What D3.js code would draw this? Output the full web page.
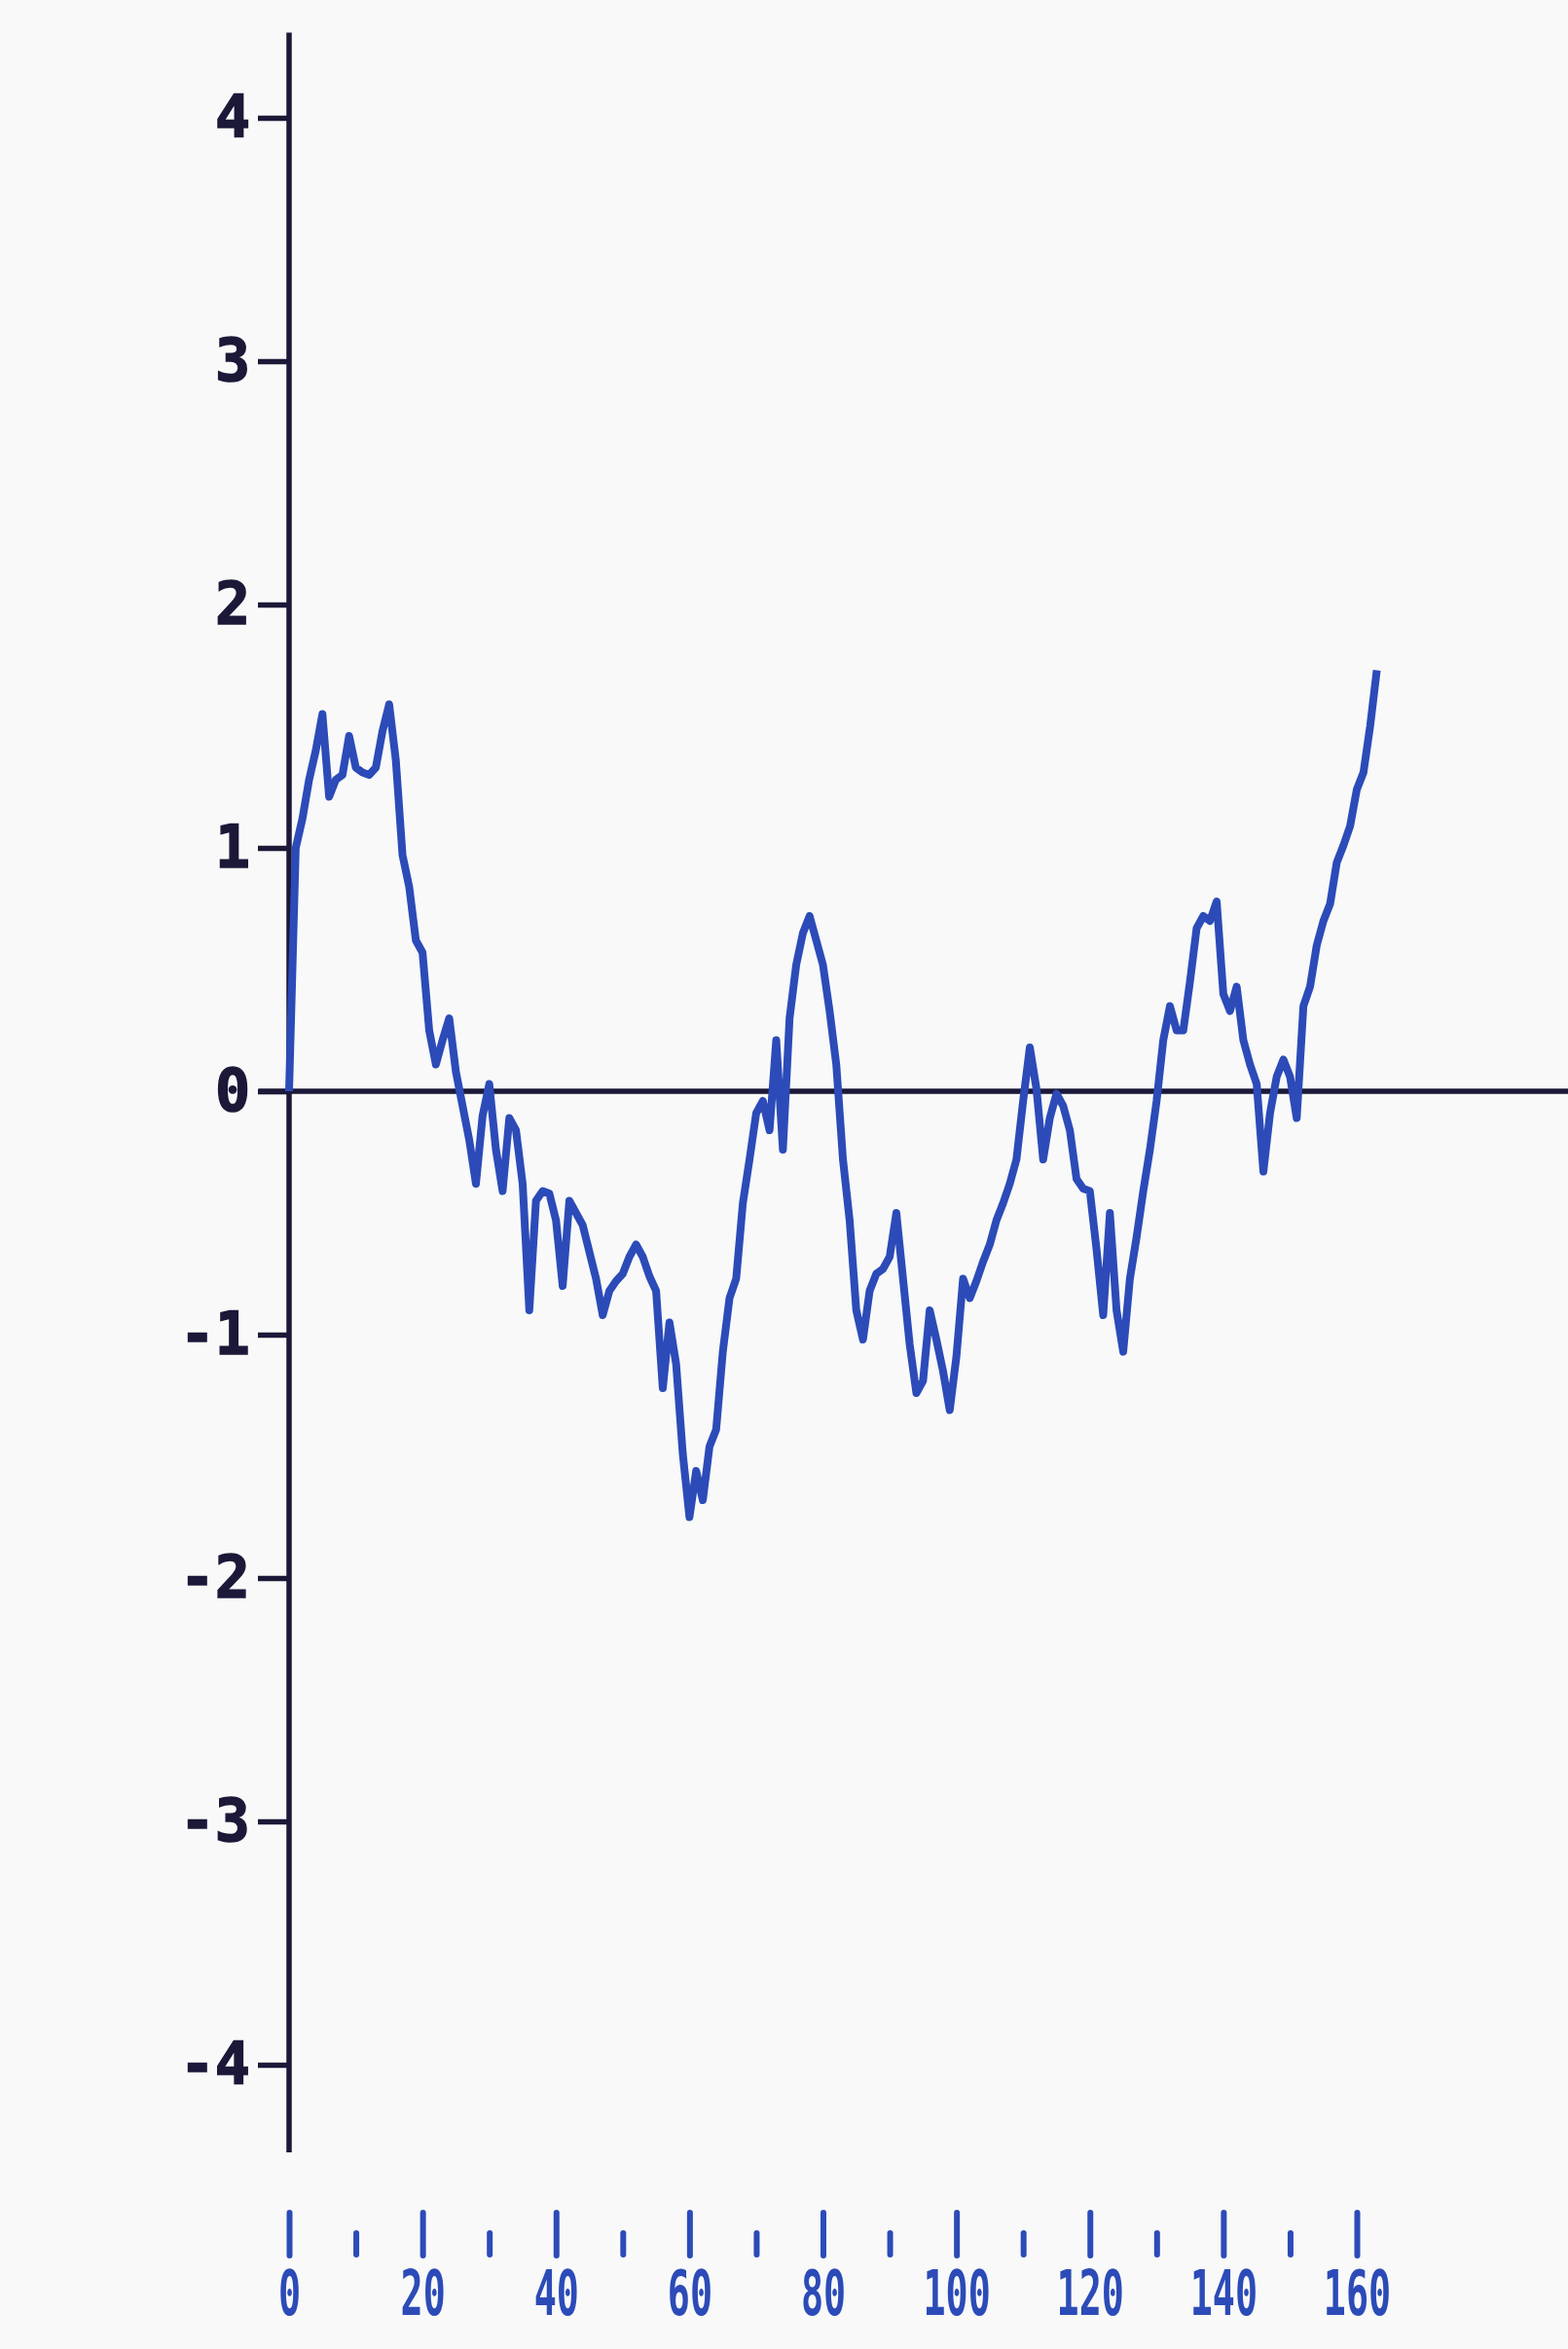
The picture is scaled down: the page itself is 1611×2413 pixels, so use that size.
<!DOCTYPE html>
<html>
<head>
<meta charset="utf-8">
<script src="https://cdn.jsdelivr.net/npm/d3@7"></script>
<style>
  html, body { margin: 0; padding: 0; background: #f8f9f8; }
  svg { display: block; }
</style>
</head>
<body>
<div id="chart"></div>
<script>
// hydropathy-like profile, one value per residue
const profile = [
   0.00, 1.00, 1.12, 1.28, 1.40, 1.55, 1.21, 1.28, 1.30, 1.46,
   1.33, 1.31, 1.30, 1.33, 1.48, 1.59, 1.36, 0.97, 0.84, 0.62,
   0.57, 0.25, 0.11, 0.21, 0.30, 0.08,-0.06,-0.20,-0.38,-0.10,
   0.03,-0.24,-0.41,-0.11,-0.16,-0.38,-0.90,-0.45,-0.41,-0.42,
  -0.53,-0.80,-0.45,-0.50,-0.55,-0.66,-0.77,-0.92,-0.82,-0.78,
  -0.75,-0.68,-0.63,-0.68,-0.76,-0.82,-1.22,-0.95,-1.12,-1.49,
  -1.75,-1.56,-1.68,-1.46,-1.39,-1.07,-0.85,-0.77,-0.46,-0.28,
  -0.09,-0.04,-0.16, 0.21,-0.24, 0.30, 0.52, 0.65, 0.72, 0.62,
   0.52, 0.33, 0.11,-0.28,-0.53,-0.90,-1.02,-0.82,-0.75,-0.73,
  -0.68,-0.50,-0.77,-1.04,-1.24,-1.19,-0.90,-1.02,-1.15,-1.31,
  -1.09,-0.77,-0.85,-0.78,-0.70,-0.63,-0.53,-0.46,-0.38,-0.28,
  -0.04, 0.18, 0.01,-0.28,-0.11,-0.01,-0.06,-0.16,-0.36,-0.40,
  -0.41,-0.65,-0.92,-0.50,-0.90,-1.07,-0.77,-0.60,-0.41,-0.24,
  -0.04, 0.21, 0.35, 0.25, 0.25, 0.45, 0.67, 0.72, 0.70, 0.78,
   0.40, 0.33, 0.43, 0.21, 0.11, 0.03,-0.33,-0.09, 0.06, 0.13,
   0.06,-0.11, 0.35, 0.43, 0.60, 0.70, 0.77, 0.94, 1.01, 1.09,
   1.24, 1.31, 1.50, 1.73
];
const yTicks = [-4, -3, -2, -1, 0, 1, 2, 3, 4];
const xMajor = [0, 20, 40, 60, 80, 100, 120, 140, 160];
const xMinor = [10, 30, 50, 70, 90, 110, 130, 150];

const width = 1611, height = 2413;
const ink = "#1b1838", blue = "#2c4bb8";

const svg = d3.select("#chart").append("svg")
    .attr("width", width).attr("height", height);

const x = d3.scaleLinear().domain([0, 160]).range([297, 1394]);
const y = d3.scaleLinear().domain([-4, 4]).range([2121, 121]);

// zero line, runs out to the right edge
svg.append("line")
    .attr("x1", x(-4.6)).attr("x2", width)
    .attr("y1", y(0)).attr("y2", y(0))
    .attr("stroke", ink).attr("stroke-width", 5.5);

// vertical axis, longer than the tick range
svg.append("line")
    .attr("x1", x(0)).attr("x2", x(0))
    .attr("y1", y(4.35)).attr("y2", y(-4.36))
    .attr("stroke", ink).attr("stroke-width", 5.5);

const yAxis = svg.append("g")
    .attr("transform", `translate(${x(0)},0)`)
    .call(d3.axisLeft(y).tickValues(yTicks).tickSize(32).tickPadding(8)
        .tickFormat(d3.format("d")));
yAxis.select(".domain").remove();
yAxis.selectAll(".tick line").attr("stroke", ink).attr("stroke-width", 5.5);
yAxis.selectAll(".tick text")
    .attr("fill", ink)
    .attr("font-family", "'DejaVu Sans Mono', monospace")
    .attr("font-weight", "bold")
    .attr("font-size", 60)
    .attr("stroke", ink).attr("stroke-width", 1.5)
    .text(d => d < 0 ? "-" + Math.abs(d) : d);

// profile line
svg.append("path")
    .datum(profile)
    .attr("fill", "none")
    .attr("stroke", blue)
    .attr("stroke-width", 8)
    .attr("stroke-linejoin", "round")
    .attr("d", d3.line().x((d, i) => x(i)).y(d => y(d)));

// residue ruler underneath
const ruler = svg.append("g")
    .attr("transform", "translate(0,2273)")
    .call(d3.axisBottom(x).tickValues(xMajor).tickSize(44).tickPadding(16));
ruler.select(".domain").remove();
ruler.selectAll(".tick line").attr("stroke", blue).attr("stroke-width", 6)
    .attr("stroke-linecap", "round");
ruler.selectAll(".tick text")
    .attr("fill", blue)
    .attr("font-family", "'DejaVu Sans Mono', monospace")
    .attr("font-weight", "bold")
    .attr("font-size", 64)
    .attr("transform", "scale(0.6,1)");

const minor = svg.append("g")
    .attr("transform", "translate(0,2294)")
    .call(d3.axisBottom(x).tickValues(xMinor).tickSize(22).tickFormat(""));
minor.select(".domain").remove();
minor.selectAll(".tick line").attr("stroke", blue).attr("stroke-width", 6)
    .attr("stroke-linecap", "round");
</script>
</body>
</html>
